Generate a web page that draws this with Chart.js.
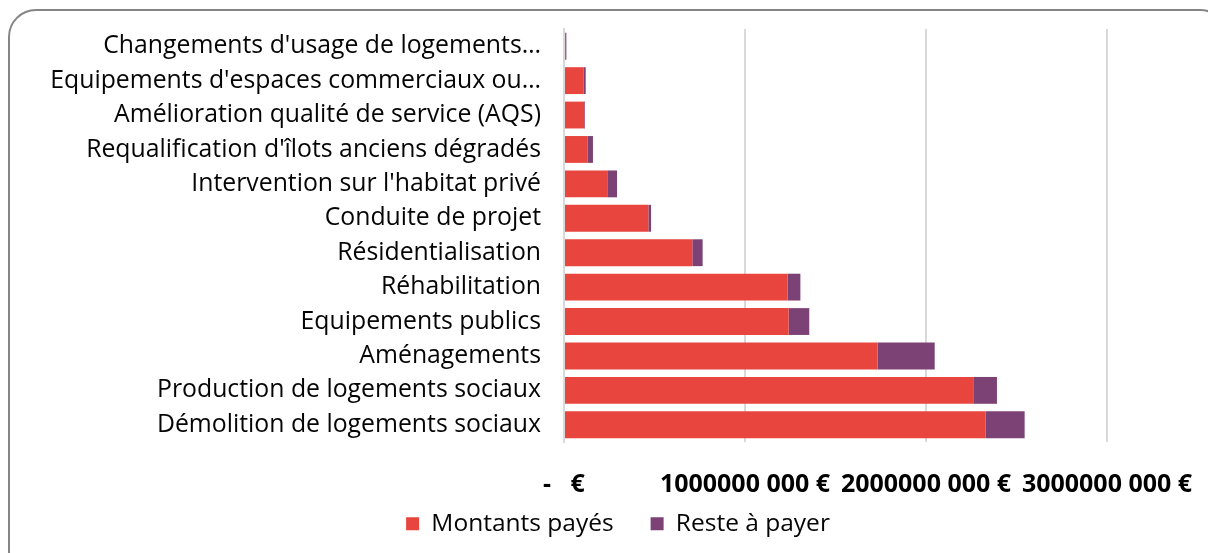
<!DOCTYPE html>
<html>
<head>
<meta charset="utf-8">
<script src="https://cdn.jsdelivr.net/npm/chart.js@4.4.1/dist/chart.umd.min.js"></script>
<style>
  html, body { margin: 0; padding: 0; background: #ffffff; overflow: hidden; }
  #wrap { position: relative; width: 1208px; height: 553px; }
  #frame { position: absolute; left: 8px; top: 9px; width: 1220px; height: 570px;
           border: 2px solid #858585; border-radius: 28px; box-sizing: border-box; }
  canvas { position: absolute; left: 0; top: 0; }
</style>
</head>
<body>
<div id="wrap">
  <div id="frame"></div>
  <canvas id="c" width="1208" height="553"></canvas>
</div>
<script>
const categories = [
  "Changements d'usage de logements…",
  "Equipements d'espaces commerciaux ou…",
  "Amélioration qualité de service (AQS)",
  "Requalification d'îlots anciens dégradés",
  "Intervention sur l'habitat privé",
  "Conduite de projet",
  "Résidentialisation",
  "Réhabilitation",
  "Equipements publics",
  "Aménagements",
  "Production de logements sociaux",
  "Démolition de logements sociaux"
];
const montantsPayes = [11e6, 107e6, 112e6, 129e6, 239e6, 466e6, 709e6, 1236e6, 1241e6, 1733e6, 2261e6, 2330e6];
const resteAPayer   = [2e6, 13e6, 4e6, 31e6, 54e6, 15e6, 57e6, 70e6, 114e6, 315e6, 131e6, 215e6];
const tickValues = [0, 1e9, 2e9, 3e9];
const tickLabels = ["-   €", "1000000 000 €", "2000000 000 €", "3000000 000 €"];
const seriesNames = ["Montants payés", "Reste à payer"];

const FONT = "'Open Sans', 'Noto Sans', sans-serif";

// let the x tick labels extend below the (short) axis box without being clipped
const extendLabelArea = {
  id: 'extendLabelArea',
  afterLayout(chart) { chart.scales.x.bottom = chart.height; }
};

new Chart(document.getElementById('c'), {
  type: 'bar',
  data: {
    labels: categories,
    datasets: [
      { label: seriesNames[0], data: montantsPayes, backgroundColor: '#E7453D', borderWidth: 0 },
      { label: seriesNames[1], data: resteAPayer, backgroundColor: '#7D4275', borderWidth: 0 }
    ]
  },
  plugins: [extendLabelArea],
  options: {
    indexAxis: 'y',
    responsive: false,
    animation: false,
    devicePixelRatio: 1,
    layout: { padding: { left: 28, right: 0, top: 29, bottom: 7 } },
    datasets: { bar: { categoryPercentage: 1.0, barPercentage: 0.78 } },
    scales: {
      x: {
        stacked: true,
        min: 0, max: 3e9,
        afterBuildTicks: (s) => { s.ticks = tickValues.map(v => ({ value: v })); },
        afterFit: (s) => { s.height = 32.5; s.paddingLeft = 0; s.paddingRight = 101; },
        ticks: {
          autoSkip: false, maxRotation: 0,
          padding: 28,
          color: '#000000',
          font: { family: FONT, size: 25, weight: 'bold' },
          callback: (v, i) => tickLabels[i]
        },
        grid: { color: '#D9D9D9', lineWidth: 2, drawTicks: false },
        border: { display: false }
      },
      y: {
        stacked: true,
        afterFit: (s) => { s.width = 536; s.paddingTop = 0; s.paddingBottom = 0; },
        ticks: {
          autoSkip: false,
          padding: 23,
          color: '#050505',
          font: { family: FONT, size: 24.8 }
        },
        grid: { display: false, drawTicks: false },
        border: { display: true, color: '#D9D9D9', width: 2 }
      }
    },
    plugins: {
      legend: {
        position: 'bottom',
        labels: {
          boxWidth: 13, boxHeight: 13,
          padding: 37,
          color: '#050505',
          font: { family: FONT, size: 24.5 }
        }
      },
      tooltip: { enabled: false }
    }
  }
});
</script>
</body>
</html>
